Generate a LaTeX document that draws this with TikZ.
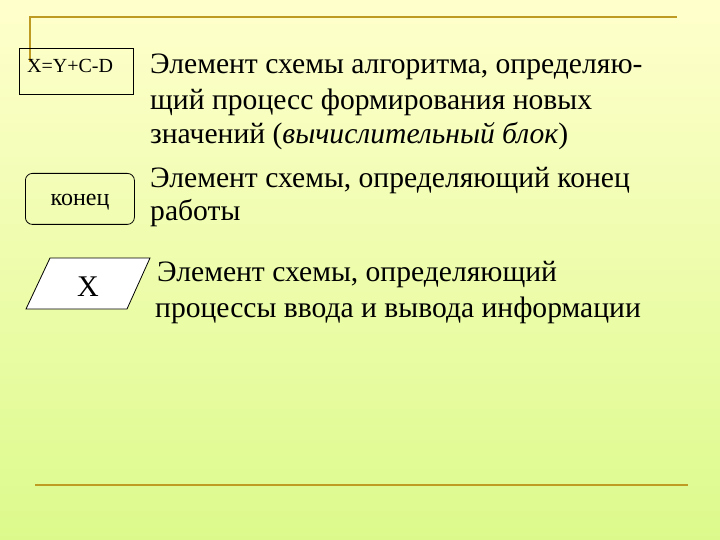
\documentclass[tikz,border=0pt]{standalone}
\usepackage{fontspec}
\setmainfont{Liberation Serif}
\usetikzlibrary{shapes.geometric}
\definecolor{bgtop}{RGB}{255,255,204}
\definecolor{bgbot}{RGB}{220,250,140}
\definecolor{rule}{RGB}{190,155,35}
\begin{document}
\begin{tikzpicture}[x=1pt,y=-1pt,
  txt/.style={anchor=base west,inner sep=0pt,font=\fontsize{29.6}{36}\selectfont},
  rulel/.style={draw=rule,line width=2pt},
  shp/.style={draw=black,line width=0.8pt}]
\useasboundingbox (0,0) rectangle (720,540);
\shade[top color=bgtop,bottom color=bgbot] (0,0) rectangle (720,540);
% decorative rules
\coordinate (r1) at (30,62);
\coordinate (r2) at (30,17);
\coordinate (r3) at (677,17);
\draw[rulel] (r1) -- (r2) -- (r3);
\coordinate (b1) at (35,485);
\coordinate (b2) at (688,485);
\draw[rulel] (b1) -- (b2);
% process block
\node[shp,rectangle,minimum width=114pt,minimum height=46pt,anchor=north west,inner sep=0pt] (proc) at (19,48) {};
\node[anchor=base west,inner sep=0pt,font=\fontsize{20}{24}\selectfont] (proctxt) at (27,73) {X=Y+C-D};
% terminator
\node[shp,rectangle,rounded corners=7pt,minimum width=109pt,minimum height=51pt,anchor=north west,inner sep=0pt] (term) at (25,173) {};
\node[inner sep=0pt,font=\fontsize{24}{28}\selectfont] (termtxt) at (80,202) {конец};
% input/output
\path[shp,fill=white] (50,258) coordinate (p1) -- (150,258) coordinate (p2) -- (127,309) coordinate (p3) -- (26,309) coordinate (p4) -- cycle;
\node[anchor=base,inner sep=0pt,font=\fontsize{30}{36}\selectfont] (io) at (88,296) {X};
% descriptions
\node[txt] (l1) at (150,74) {Элемент схемы алгоритма, определяю-};
\node[txt] (l2) at (150,110) {щий процесс формирования новых};
\node[txt] (l3) at (150,144) {значений (\textit{вычислительный блок})};
\node[txt] (l4) at (150,188) {Элемент схемы, определяющий конец};
\node[txt] (l5) at (150,221) {работы};
\node[txt] (l6) at (157,281) {Элемент схемы, определяющий};
\node[txt] (l7) at (155,317) {процессы ввода и вывода информации};
\end{tikzpicture}
\end{document}
